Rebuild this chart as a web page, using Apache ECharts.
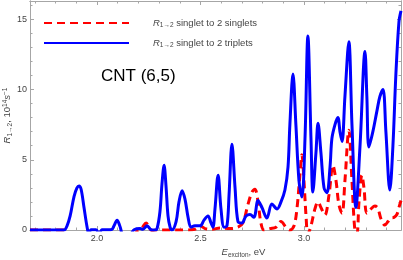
<!DOCTYPE html>
<html><head><meta charset="utf-8">
<script src="https://cdn.jsdelivr.net/npm/echarts@6/dist/echarts.min.js"></script>
<style>html,body{margin:0;padding:0;background:#fff}#c{width:403px;height:260px}</style>
</head><body><div id="c"></div>
<script>
// exciton energy (eV) and rate (10^14 s^-1)
const blueE = [1.676,1.840,1.855,1.870,1.889,1.903,1.913,1.923,1.937,1.952,1.961,1.971,1.995,2.010,2.024,2.053,2.072,2.082,2.097,2.111,2.126,2.160,2.179,2.208,2.222,2.242,2.261,2.280,2.290,2.304,2.314,2.324,2.333,2.343,2.353,2.362,2.382,2.396,2.411,2.425,2.440,2.454,2.473,2.498,2.517,2.536,2.551,2.560,2.570,2.585,2.599,2.614,2.628,2.638,2.652,2.667,2.681,2.700,2.720,2.739,2.758,2.778,2.797,2.821,2.845,2.870,2.889,2.908,2.923,2.932,2.947,2.961,2.976,2.990,3.005,3.019,3.034,3.043,3.058,3.068,3.082,3.097,3.111,3.126,3.135,3.150,3.164,3.174,3.184,3.198,3.217,3.232,3.251,3.271,3.295,3.304,3.314,3.333,3.353,3.367,3.382,3.396,3.415,3.430,3.444,3.459,3.469];
const blueR = [0,0,0.3,1.0,2.4,3.0,3.14,2.9,1.6,0.2,-0.3,0.02,0.02,-0.3,0.02,0.02,0.05,0.3,0.7,0.25,-0.3,-0.3,0.02,0.1,0.05,0.3,0.02,0.0,0.1,1.3,3.3,4.6,3.2,1.0,0.2,0.0,0.6,2.0,2.8,2.2,0.9,0.2,0.3,0.3,0.7,1.0,0.5,0.2,1.5,3.9,1.5,0.2,0.3,2.5,6.1,3.0,0.6,0.5,1.0,1.1,0.9,2.1,1.6,0.85,1.85,1.5,2.0,2.85,4.5,7.5,11.1,7.5,3.5,2.35,6.5,13.8,6.5,2.7,5.5,7.6,5.5,3.0,2.65,4.5,6.5,7.5,8.0,7.0,6.3,9.5,13.4,7.5,1.6,6.0,12.7,9.5,5.9,7.0,8.5,9.5,10.0,7.0,2.85,6.0,11.0,14.8,15.6];
const redE = [1.676,1.840,1.860,2.179,2.198,2.217,2.237,2.251,2.266,2.285,2.353,2.425,2.473,2.498,2.522,2.556,2.594,2.643,2.681,2.705,2.729,2.749,2.763,2.778,2.792,2.807,2.836,2.865,2.889,2.913,2.932,2.952,2.966,2.981,2.990,3.000,3.010,3.019,3.034,3.053,3.068,3.082,3.101,3.121,3.140,3.155,3.169,3.184,3.198,3.217,3.232,3.246,3.256,3.266,3.280,3.290,3.304,3.324,3.343,3.357,3.372,3.391,3.406,3.420,3.435,3.449,3.459,3.469];
const redR = [0,0,-0.3,-0.3,0,0.15,0.5,0.2,-0.05,0,0,0,0.05,0.3,0.1,0.05,0.15,0.1,0.2,0.5,1.8,2.7,2.9,2.0,0.5,0,0.1,0.2,0.6,0.2,0,0.3,1.5,4.0,5.35,3.5,1.0,-0.3,0.3,1.5,2.0,1.6,1.07,2.5,4.6,3.5,1.8,1.2,3.5,7.1,3.5,0.0,-0.3,2.0,3.9,3.0,1.2,1.5,1.7,1.55,0.8,0.35,0.6,0.85,0.9,1.1,1.6,2.1];
const seriesNames = ['singlet to 2 singlets', 'singlet to 2 triplets'];
const xMajorTicks = [2.0, 2.5, 3.0];
const xMinorTicks = [1.7,1.8,1.9,2.1,2.2,2.3,2.4,2.6,2.7,2.8,2.9,3.1,3.2,3.3,3.4];
const yMajorTicks = [0, 5, 10, 15];
const yMinorTicks = [1,2,3,4,6,7,8,9,11,12,13,14,16];
const titleText = 'CNT (6,5)';
const X_MIN = 1.676, X_MAX = 3.469, Y_MIN = 0, Y_MAX = 16.3;

const FONT = "'Liberation Sans', Arial, sans-serif";
const AXC = '#a6a6a6';
const TXT = '#444';
const rich = {
  sp: {width: 19},
  i: {fontStyle: 'italic', fontSize: 9.5, lineHeight: 13, color: TXT, fontFamily: FONT},
  n: {fontSize: 9.5, lineHeight: 13, color: TXT, fontFamily: FONT},
  sub: {fontSize: 6.5, lineHeight: 8, padding: [5, 0, 0, 0], color: TXT, fontFamily: FONT},
  sup: {fontSize: 6.5, lineHeight: 8, padding: [0, 0, 5, 0], color: TXT, fontFamily: FONT}
};

function xAx(pos, ticks, len, labels) {
  return {
    type: 'value', position: pos, min: X_MIN, max: X_MAX, nameMoveOverlap: false,
    axisLine: {show: true, onZero: false, lineStyle: {color: AXC, width: 1}},
    axisTick: {show: true, inside: true, length: len, customValues: ticks, lineStyle: {color: AXC}},
    axisLabel: labels ? {show: true, customValues: xMajorTicks, formatter: v => v.toFixed(1), color: TXT, fontSize: 9, margin: 4, fontFamily: FONT} : {show: false},
    splitLine: {show: false}
  };
}
function yAx(pos, ticks, len, labels) {
  return {
    type: 'value', position: pos, min: Y_MIN, max: Y_MAX, nameMoveOverlap: false,
    axisLine: {show: true, onZero: false, lineStyle: {color: AXC, width: 1}},
    axisTick: {show: true, inside: true, length: len, customValues: ticks, lineStyle: {color: AXC}},
    axisLabel: labels ? {show: true, customValues: yMajorTicks, formatter: v => String(v), color: TXT, fontSize: 9, margin: 3, fontFamily: FONT} : {show: false},
    splitLine: {show: false}
  };
}
const xs = [xAx('bottom', xMajorTicks, 4, true), xAx('bottom', xMinorTicks, 2.5, false), xAx('top', xMajorTicks, 4, false), xAx('top', xMinorTicks, 2.5, false)];
xs[0].name = '{i|E}{sub|exciton}{n|, eV}';
xs[0].nameLocation = 'middle';
xs[0].nameGap = 16;
xs[0].nameTextStyle = {rich: rich, padding: [0, 0, 0, 56]};
const ys = [yAx('left', yMajorTicks, 4, true), yAx('left', yMinorTicks, 2.5, false), yAx('right', yMajorTicks, 4, false), yAx('right', yMinorTicks, 2.5, false)];
ys[0].name = '{i|R}{sub|1→2}{n|, 10}{sup|14}{i|s}{sup|−1}';
ys[0].nameLocation = 'middle';
ys[0].nameGap = 16;
ys[0].nameRotate = 90;
ys[0].nameTextStyle = {rich: rich};

const chart = echarts.init(document.getElementById('c'), null, {renderer: 'canvas'});
chart.setOption({
  animation: false,
  backgroundColor: '#fff',
  textStyle: {fontFamily: FONT},
  title: {text: titleText, left: 101, top: 68, padding: 0, textStyle: {fontSize: 17, fontWeight: 'normal', color: '#000', fontFamily: FONT}},
  legend: {
    orient: 'vertical', left: 43, top: 17, padding: 0, itemWidth: 85, itemHeight: 12, itemGap: 8,
    data: seriesNames,
    itemStyle: {opacity: 0},
    formatter: name => '{sp| }{i|R}{sub|1→2}{n| ' + name + '}',
    textStyle: {rich: rich}
  },
  grid: {left: 30, right: 2, top: 1, bottom: 30, containLabel: false, outerBoundsMode: 'none'},
  xAxis: xs,
  yAxis: ys,
  series: [
    {name: seriesNames[0], type: 'line', xAxisIndex: 0, yAxisIndex: 0, symbol: 'none', smooth: 0.35, clip: true,
     lineStyle: {color: '#ff0000', width: 3, type: [8, 5], cap: 'butt'}, itemStyle: {color: '#ff0000'},
     data: redE.map((e, k) => [e, redR[k]])},
    {name: seriesNames[1], type: 'line', xAxisIndex: 0, yAxisIndex: 0, symbol: 'none', smooth: 0.35, clip: true,
     lineStyle: {color: '#0000ff', width: 3}, itemStyle: {color: '#0000ff'},
     data: blueE.map((e, k) => [e, blueR[k]])}
  ]
});
</script></body></html>
